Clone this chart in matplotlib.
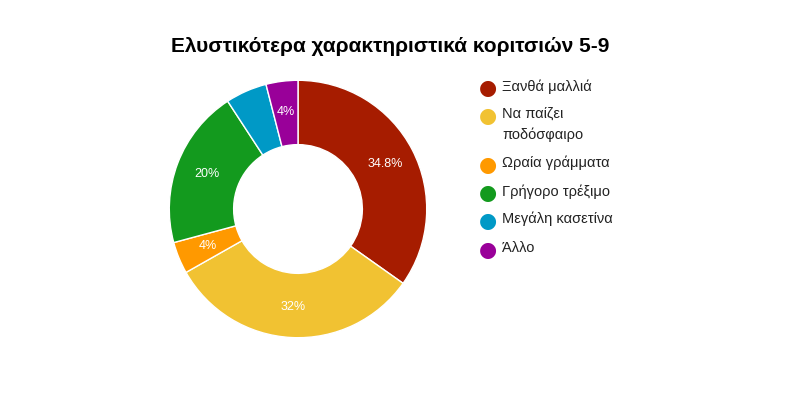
import matplotlib
matplotlib.use("Agg")
import matplotlib.pyplot as plt
import numpy as np

categories = ["Ξανθά μαλλιά", "Να παίζει\nποδόσφαιρο", "Ωραία γράμματα", "Γρήγορο τρέξιμο", "Μεγάλη κασετίνα", "Άλλο"]
values = [34.8, 32, 4, 20, 5.2, 4]
pct_labels = ["34.8%", "32%", "4%", "20%", "", "4%"]
colors = ["#a61c00", "#f1c232", "#ff9900", "#139a1e", "#0099c6", "#990099"]

fig = plt.figure(figsize=(7.93, 4.18), dpi=100)
fig.patch.set_facecolor("white")
fig.text(390/793, 1-47/418, "Ελυστικότερα χαρακτηριστικά κοριτσιών 5-9", ha="center", va="center",
         fontsize=15, fontweight="bold", family="Liberation Sans")

ax = fig.add_axes([(298-130)/793, (418-209-130)/418, 260/793, 260/418])
wedges, _ = ax.pie(values, colors=colors, startangle=90, counterclock=False, radius=1,
                   wedgeprops=dict(width=0.5, edgecolor="white", linewidth=1))
ax.set_xlim(-1.01, 1.01); ax.set_ylim(-1.01, 1.01); ax.set_aspect("equal"); ax.axis("off")
for w, lab in zip(wedges, pct_labels):
    a = np.deg2rad((w.theta1 + w.theta2) / 2)
    ax.text(0.76*np.cos(a), 0.76*np.sin(a), lab, ha="center", va="center", color="white",
            fontsize=9, family="Liberation Sans")

ys = [88, 116, 165, 193, 221, 250]
for y, c, lab in zip(ys, colors, categories):
    fig.patches.append(matplotlib.patches.Circle((488/793, 1-y/418), 0, transform=fig.transFigure))
    fig.text(488/793, 1-y/418, "●", color=c, fontsize=15, ha="center", va="center", family="DejaVu Sans")
    fig.text(502/793, 1-(y-9)/418, lab, color="#222222", fontsize=10.5, ha="left", va="top",
             family="Liberation Sans", linespacing=1.6)

fig.savefig("out.png", dpi=100)
